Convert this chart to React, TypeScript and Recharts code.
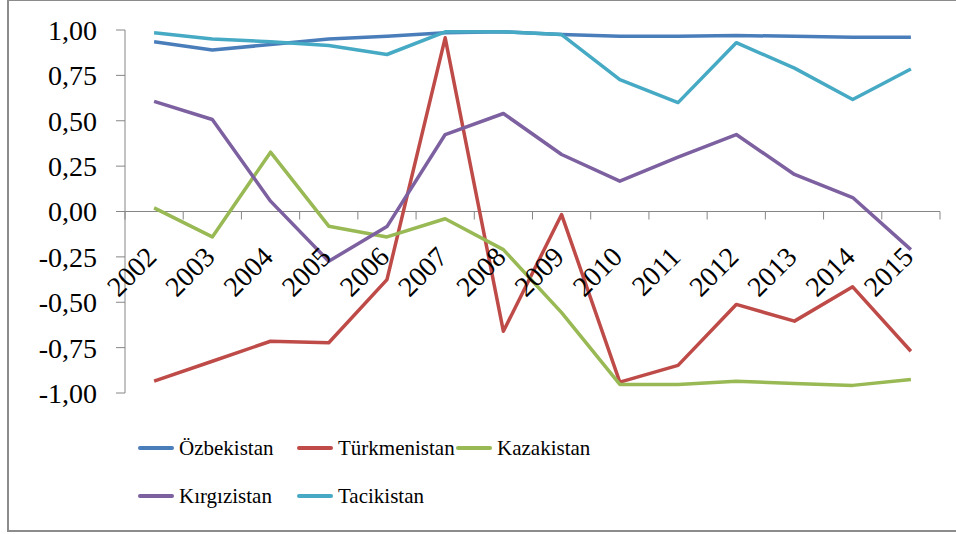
import { LineChart, Line, XAxis, YAxis, ReferenceLine, Legend } from 'recharts'

const years = ['2002', '2003', '2004', '2005', '2006', '2007', '2008', '2009', '2010', '2011', '2012', '2013', '2014', '2015']

const ozbekistan = [0.935, 0.89, 0.92, 0.95, 0.965, 0.985, 0.99, 0.975, 0.965, 0.965, 0.97, 0.965, 0.96, 0.96]
const turkmenistan = [-0.935, -0.825, -0.715, -0.723, -0.375, 0.957, -0.66, -0.017, -0.94, -0.848, -0.512, -0.604, -0.415, -0.77]
const kazakistan = [0.02, -0.14, 0.327, -0.081, -0.14, -0.04, -0.21, -0.557, -0.953, -0.953, -0.935, -0.948, -0.958, -0.926]
const kirgizistan = [0.607, 0.507, 0.057, -0.274, -0.083, 0.424, 0.54, 0.314, 0.167, 0.3, 0.424, 0.204, 0.077, -0.21]
const tacikistan = [0.985, 0.95, 0.935, 0.915, 0.865, 0.99, 0.99, 0.975, 0.727, 0.6, 0.93, 0.79, 0.617, 0.785]

const yTicks = [-1, -0.75, -0.5, -0.25, 0, 0.25, 0.5, 0.75, 1]

const series = [
  { key: 'ozb', name: 'Özbekistan', color: '#4A7EBB', values: ozbekistan },
  { key: 'tur', name: 'Türkmenistan', color: '#BE4B48', values: turkmenistan },
  { key: 'kaz', name: 'Kazakistan', color: '#98B954', values: kazakistan },
  { key: 'kir', name: 'Kırgızistan', color: '#7D60A0', values: kirgizistan },
  { key: 'tac', name: 'Tacikistan', color: '#46AAC5', values: tacikistan },
]

const data = years.map((year, i) => {
  const row: Record<string, string | number> = { year }
  series.forEach((s) => {
    row[s.key] = s.values[i]
  })
  return row
})

const SERIF = "'Liberation Serif', 'Times New Roman', serif"
const AXIS = '#868686'

const CHART_W = 956
const CHART_H = 534
const MARGIN = { top: 30, right: 16, left: 8, bottom: 140 }
const X_AXIS_H = 1
const Y_AXIS_W = 117
const PLOT_W = CHART_W - MARGIN.left - MARGIN.right - Y_AXIS_W
const PLOT_H = CHART_H - MARGIN.top - MARGIN.bottom - X_AXIS_H
const BAND = PLOT_W / years.length

// x axis crosses at 0, so ticks and labels are drawn from the middle of the plot
function YearTick(props: any) {
  const { x, y, payload, index } = props
  const zeroY = y - PLOT_H / 2
  const left = x - BAND / 2
  const lx = x + 4
  const ly = zeroY + 47
  return (
    <g>
      <line x1={left} x2={left} y1={zeroY} y2={zeroY + 8} stroke={AXIS} />
      {index === years.length - 1 && (
        <line x1={x + BAND / 2} x2={x + BAND / 2} y1={zeroY} y2={zeroY + 8} stroke={AXIS} />
      )}
      <text
        x={lx}
        y={ly}
        transform={`rotate(-45 ${lx} ${ly})`}
        textAnchor="end"
        fontSize={28}
        style={{ fontFamily: SERIF }}
        fill="#000"
      >
        {payload.value}
      </text>
    </g>
  )
}

function YValueTick(props: any) {
  const { x, y, payload } = props
  return (
    <text x={x} y={y} dy="0.355em" textAnchor="end" fontSize={28} style={{ fontFamily: SERIF }} fill="#000">
      {payload.value.toFixed(2).replace('.', ',')}
    </text>
  )
}

function LegendContent() {
  return (
    <div
      style={{
        display: 'grid',
        gridTemplateColumns: '159px 159px 200px',
        gridAutoRows: '48px',
        fontFamily: SERIF,
        fontSize: 21,
        color: '#000',
      }}
    >
      {series.map((s) => (
        <div key={s.key} style={{ display: 'flex', alignItems: 'center', whiteSpace: 'nowrap' }}>
          <svg width={36} height={6} style={{ marginRight: 5 }}>
            <line x1={2} x2={34} y1={3} y2={3} stroke={s.color} strokeWidth={4} strokeLinecap="round" />
          </svg>
          <span>{s.name}</span>
        </div>
      ))}
    </div>
  )
}

export default function App() {
  return (
    <div
      style={{
        position: 'fixed',
        left: 0,
        top: 0,
        width: CHART_W,
        height: CHART_H,
        overflow: 'hidden',
        background: '#fff',
        fontFamily: SERIF,
      }}
    >
      <div
        style={{
          position: 'absolute',
          left: 7,
          top: -1,
          width: 980,
          height: 533,
          border: '2px solid #8c8c8c',
          boxSizing: 'border-box',
        }}
      />
      <div style={{ position: 'absolute', left: 0, top: 0 }}>
        <LineChart width={CHART_W} height={CHART_H} data={data} margin={MARGIN}>
          <YAxis
            domain={[-1, 1]}
            ticks={yTicks}
            width={Y_AXIS_W}
            stroke={AXIS}
            tickSize={9}
            tickMargin={19}
            tick={<YValueTick />}
            interval={0}
          />
          <XAxis
            dataKey="year"
            scale="band"
            height={X_AXIS_H}
            axisLine={false}
            tickLine={false}
            tickSize={0}
            tickMargin={0}
            interval={0}
            tick={<YearTick />}
          />
          <ReferenceLine y={0} stroke={AXIS} ifOverflow="visible" />
          {series.map((s) => (
            <Line
              key={s.key}
              type="linear"
              dataKey={s.key}
              name={s.name}
              stroke={s.color}
              strokeWidth={3.5}
              strokeLinejoin="round"
              dot={false}
              activeDot={false}
              isAnimationActive={false}
            />
          ))}
          <Legend
            layout="vertical"
            verticalAlign="middle"
            align="center"
            wrapperStyle={{ left: 138, top: 424, width: 560, height: 96 }}
            content={<LegendContent />}
          />
        </LineChart>
      </div>
    </div>
  )
}
